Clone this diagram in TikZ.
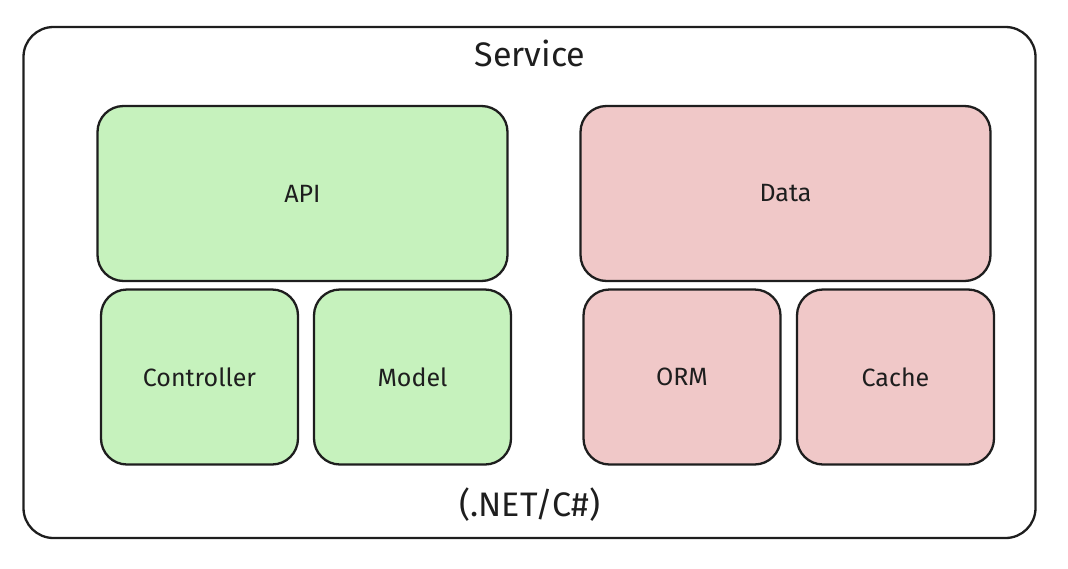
\documentclass[tikz,border=0pt]{standalone}
\usepackage{fontspec}
\setmainfont{Fira Sans}
\definecolor{apigreen}{HTML}{C6F2BD}
\definecolor{datared}{HTML}{F0C8C8}
\definecolor{inkdark}{HTML}{1E1E1E}
\begin{document}
\begin{tikzpicture}[
    x=1pt, y=-1pt,
    block/.style={rectangle, rounded corners=26pt, draw=inkdark, line width=2.3pt,
        minimum height=175pt, inner sep=0pt, text=inkdark,
        font=\fontsize{25}{30}\selectfont},
    wide/.style={block, minimum width=410pt},
    small/.style={block, minimum width=197pt},
    caption/.style={font=\fontsize{34}{40}\selectfont, text=inkdark}
]
\useasboundingbox (0,0) rectangle (1068,568);
\node[rectangle, rounded corners=30pt, draw=inkdark, line width=2.3pt,
      minimum width=1012pt, minimum height=511pt] (service) at (529.5,282.5) {};
\node[caption] (title) at (530,53) {Service};

\node[wide, fill=apigreen] (api) at (302.5,193.5) {API};
\node[small, fill=apigreen] (controller) at (199.5,377) {Controller};
\node[small, fill=apigreen] (model) at (412.5,377) {Model};

\node[wide, fill=datared] (data) at (785.5,193.5) {Data};
\node[small, fill=datared] (orm) at (682,377) {ORM};
\node[small, fill=datared] (cache) at (895.5,377) {Cache};

\node[caption] (runtime) at (530,505) {(.NET/C\#)};
\end{tikzpicture}
\end{document}
